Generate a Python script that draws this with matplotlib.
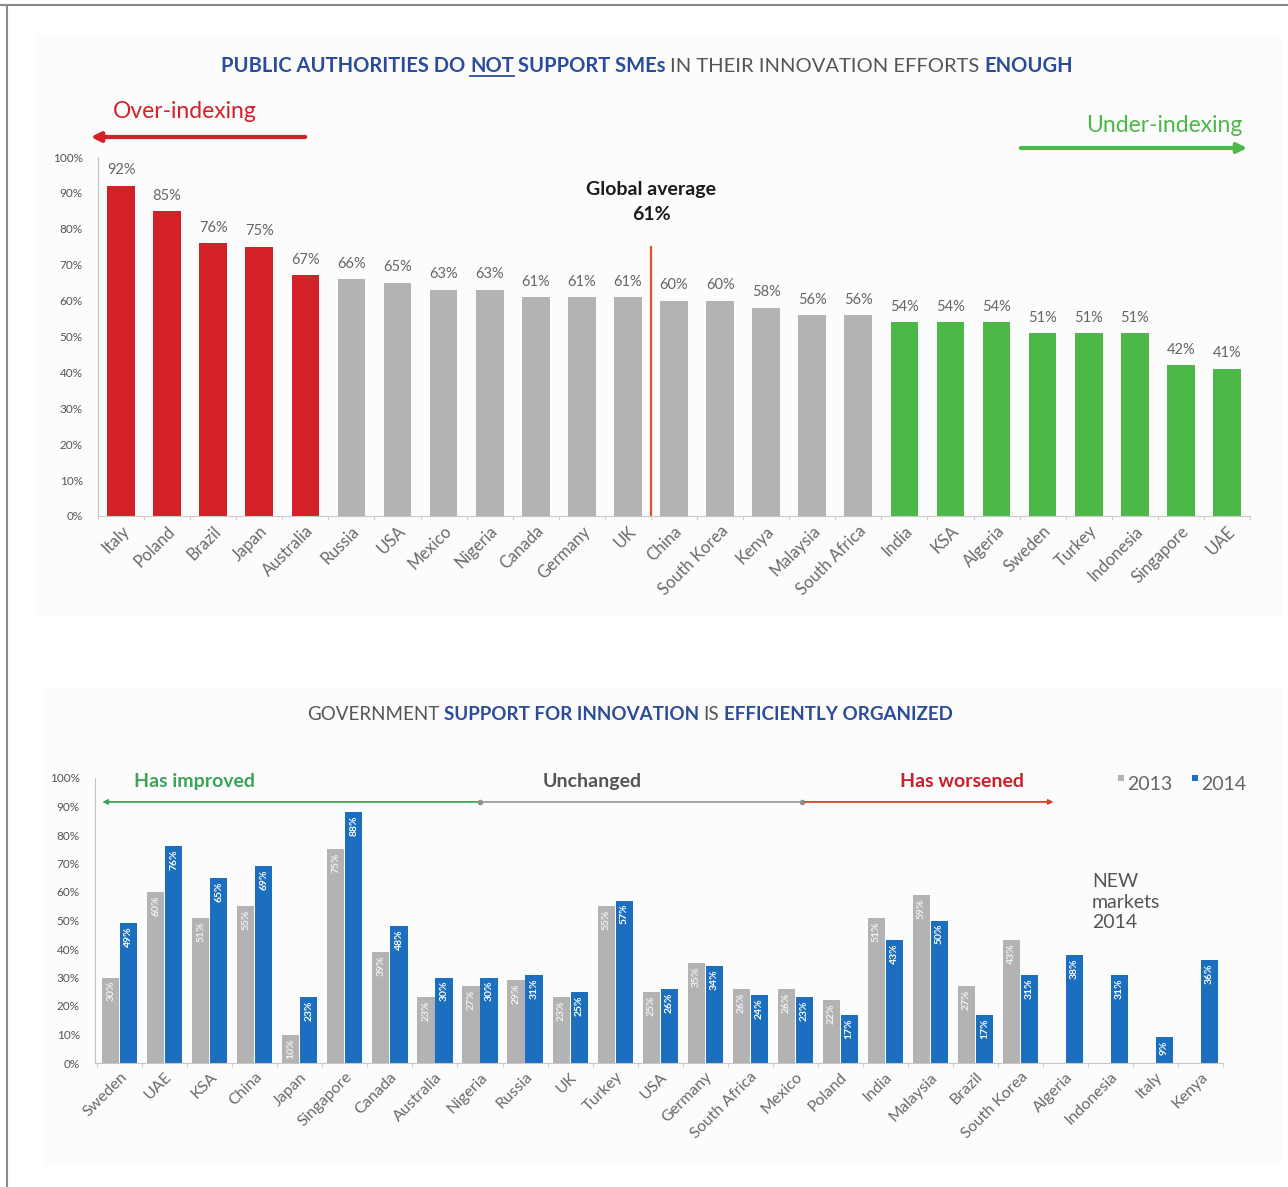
import matplotlib
matplotlib.use("Agg")
import matplotlib.pyplot as plt
from matplotlib.lines import Line2D
from matplotlib.patches import Rectangle, FancyArrowPatch
import numpy as np

plt.rcParams['font.family'] = ['Lato', 'DejaVu Sans']

# --- data: top chart (share agreeing public authorities do not support SMEs enough)
top_countries = ['Italy', 'Poland', 'Brazil', 'Japan', 'Australia', 'Russia', 'USA',
                 'Mexico', 'Nigeria', 'Canada', 'Germany', 'UK', 'China', 'South Korea',
                 'Kenya', 'Malaysia', 'South Africa', 'India', 'KSA', 'Algeria', 'Sweden',
                 'Turkey', 'Indonesia', 'Singapore', 'UAE']
top_values = [92, 85, 76, 75, 67, 66, 65, 63, 63, 61, 61, 61, 60, 60, 58, 56, 56,
              54, 54, 54, 51, 51, 51, 42, 41]
top_groups = ['over'] * 5 + ['mid'] * 12 + ['under'] * 8
global_avg = 61

# --- data: bottom chart (support efficiently organized, 2013 vs 2014)
bot_countries = ['Sweden', 'UAE', 'KSA', 'China', 'Japan', 'Singapore', 'Canada',
                 'Australia', 'Nigeria', 'Russia', 'UK', 'Turkey', 'USA', 'Germany',
                 'South Africa', 'Mexico', 'Poland', 'India', 'Malaysia', 'Brazil',
                 'South Korea', 'Algeria', 'Indonesia', 'Italy', 'Kenya']
vals_2013 = [30, 60, 51, 55, 10, 75, 39, 23, 27, 29, 23, 55, 25, 35, 26, 26, 22,
             51, 59, 27, 43, None, None, None, None]
vals_2014 = [49, 76, 65, 69, 23, 88, 48, 30, 30, 31, 25, 57, 26, 34, 24, 23, 17,
             43, 50, 17, 31, 38, 31, 9, 36]

RED = '#d42027'
GREY = '#b3b3b3'
GREEN = '#4cb848'
BLUE = '#1c6ebe'
NAVY = '#2b4c9c'
TXT = '#666666'

W, H = 1288, 1187
fig = plt.figure(figsize=(W / 100, H / 100), dpi=100)
fig.patch.set_facecolor('white')


def px(x, y):
    return x / W, 1 - y / H


# faint panels and frame
for (x0, y0, x1, y1) in [(37, 35, 1282, 617), (45, 688, 1282, 1165)]:
    fig.add_artist(Rectangle(px(x0, y1), (x1 - x0) / W, (y1 - y0) / H,
                             transform=fig.transFigure, facecolor='#fcfcfc',
                             edgecolor='none', zorder=-5))
fig.add_artist(Line2D([0, 1], [1 - 5 / H] * 2, color='#8a8a8a', lw=1.5))
fig.add_artist(Line2D([7 / W] * 2, [0, 1 - 5 / H], color='#8a8a8a', lw=1.5))


def rich_line(pieces, xc, y, size, underline=()):
    r = fig.canvas.get_renderer()
    texts = []
    for s, color, weight in pieces:
        texts.append(fig.text(0, 1 - y / H, s, color=color, fontweight=weight,
                              fontsize=size, va='center', ha='left'))
    widths = [t.get_window_extent(r).width for t in texts]
    gap = size * 0.32
    x = xc - (sum(widths) + gap * (len(texts) - 1)) / 2
    for i, (t, w) in enumerate(zip(texts, widths)):
        t.set_x(x / W)
        if i in underline:
            fig.add_artist(Line2D([x / W, (x + w) / W], [1 - (y + 10) / H] * 2,
                                  color=t.get_color(), lw=1.3))
        x += w + gap


def style_axis(ax, xsize):
    for s in ['top', 'right']:
        ax.spines[s].set_visible(False)
    ax.spines['left'].set_color('#b8c4d0')
    ax.spines['bottom'].set_color('#c8c8c8')
    ax.set_yticks(np.arange(0, 101, 10))
    ax.set_yticklabels([f'{v}%' for v in range(0, 101, 10)])
    ax.tick_params(axis='y', length=0, labelsize=8.5, labelcolor='#555555', pad=11)
    ax.tick_params(axis='x', length=0, labelsize=xsize, labelcolor='#6a6a6a', pad=5)
    ax.set_facecolor('none')


# ---------------- top chart ----------------
ax1 = fig.add_axes([98 / W, 1 - 516 / H, (1250 - 98) / W, (516 - 157) / H])
x1 = np.arange(len(top_countries))
cmap = {'over': RED, 'mid': GREY, 'under': GREEN}
ax1.bar(x1, top_values, width=0.6, color=[cmap[g] for g in top_groups], zorder=2)
for xi, v in zip(x1, top_values):
    ax1.annotate(f'{v}%', (xi, v), xytext=(0, 6), textcoords='offset points',
                 ha='center', va='bottom', fontsize=10.5, color=TXT)
ax1.set_xlim(-0.5, len(top_countries) - 0.5)
ax1.set_ylim(0, 100)
style_axis(ax1, 12)
ax1.set_xticks(x1)
ax1.set_xticklabels(top_countries, rotation=45, ha='right', rotation_mode='anchor')
ax1.set_xticks(np.arange(-0.5, len(top_countries)), minor=True)
ax1.tick_params(axis='x', which='minor', length=3, color='#c8c8c8')

avg_x = 11.5
ax1.plot([avg_x, avg_x], [0, 75], color='#e2522c', lw=1.6, zorder=3)
ax1.text(avg_x, 91, 'Global average', ha='center', va='center', fontsize=14,
         fontweight='bold', color='#1a1a1a')
ax1.text(avg_x, 84, f'{global_avg}%', ha='center', va='center', fontsize=14,
         fontweight='bold', color='#1a1a1a')

rich_line([('PUBLIC AUTHORITIES DO', NAVY, 'bold'), ('NOT', NAVY, 'bold'),
           ('SUPPORT SMEs', NAVY, 'bold'),
           ('IN THEIR INNOVATION EFFORTS', '#555555', 'normal'),
           ('ENOUGH', NAVY, 'bold')],
          647, 66, 14.5, underline=(1,))

fig.text(*px(113, 112), 'Over-indexing', color=RED, fontsize=16.5, ha='left', va='center')
fig.add_artist(FancyArrowPatch(px(308, 137), px(88, 137), transform=fig.transFigure,
                               arrowstyle='-|>', mutation_scale=14, color=RED, lw=3))
fig.text(*px(1243, 125), 'Under-indexing', color=GREEN, fontsize=16.5, ha='right',
         va='center')
fig.add_artist(FancyArrowPatch(px(1018, 148), px(1250, 148), transform=fig.transFigure,
                               arrowstyle='-|>', mutation_scale=14, color=GREEN, lw=3))

# ---------------- bottom chart ----------------
ax2 = fig.add_axes([95 / W, 1 - 1063 / H, (1223 - 95) / W, (1063 - 778) / H])
x2 = np.arange(len(bot_countries))
bw = 0.38
off = 0.2
for xi, a, b in zip(x2, vals_2013, vals_2014):
    if a is not None:
        ax2.bar(xi - off, a, width=bw, color=GREY, zorder=2)
        ax2.text(xi - off, a - 1.2, f'{a}%', rotation=90, ha='center', va='top',
                 fontsize=7.5, fontweight='bold', color='#f2f2f2', zorder=3)
    ax2.bar(xi + off, b, width=bw, color=BLUE, zorder=2)
    ax2.text(xi + off, b - 1.2, f'{b}%', rotation=90, ha='center', va='top',
             fontsize=7.5, fontweight='bold', color='white', zorder=3)
ax2.set_xlim(-0.55, len(bot_countries) - 0.5)
ax2.set_ylim(0, 100)
style_axis(ax2, 11.5)
ax2.set_xticks(x2)
ax2.set_xticklabels(bot_countries, rotation=45, ha='right', rotation_mode='anchor')
ax2.set_xticks(np.arange(-0.5, len(bot_countries)), minor=True)
ax2.tick_params(axis='x', which='minor', length=3, color='#c8c8c8')

rich_line([('GOVERNMENT', '#555555', 'normal'), ('SUPPORT FOR INNOVATION', NAVY, 'bold'),
           ('IS', '#555555', 'normal'), ('EFFICIENTLY ORGANIZED', NAVY, 'bold')],
          630, 715, 13.5)

ly = 91.6
ax2.annotate('', xy=(-0.45, ly), xytext=(8.0, ly), annotation_clip=False,
             arrowprops=dict(arrowstyle='-|>', color='#3aa55a', lw=1.3, mutation_scale=7))
ax2.plot([8.0, 15.15], [ly, ly], color='#a0a0a0', lw=1.3, clip_on=False)
ax2.annotate('', xy=(20.8, ly), xytext=(15.15, ly), annotation_clip=False,
             arrowprops=dict(arrowstyle='-|>', color='#d8402a', lw=1.3, mutation_scale=7))
ax2.plot([8.0, 15.15], [ly, ly], 'o', color='#909090', ms=3, clip_on=False)
ax2.text(1.67, 98.6, 'Has improved', color='#3aa55a', fontsize=14, fontweight='bold',
         ha='center', va='center')
ax2.text(10.5, 98.6, 'Unchanged', color='#555555', fontsize=14, fontweight='bold',
         ha='center', va='center')
ax2.text(18.7, 98.6, 'Has worsened', color='#c8202c', fontsize=14, fontweight='bold',
         ha='center', va='center')

# legend
for sx, col, lab in [(1118, GREY, '2013'), (1192, BLUE, '2014')]:
    fig.add_artist(Rectangle(px(sx, 781), 6 / W, 6 / H, transform=fig.transFigure,
                             facecolor=col, edgecolor='none'))
    fig.text(*px(sx + 9, 784), lab, color='#666666', fontsize=14, ha='left', va='center')

fig.text(*px(1092, 873), 'NEW\nmarkets\n2014', color='#555555', fontsize=14,
         ha='left', va='top', linespacing=1.25)

fig.savefig('out.png', dpi=100, facecolor='white')
